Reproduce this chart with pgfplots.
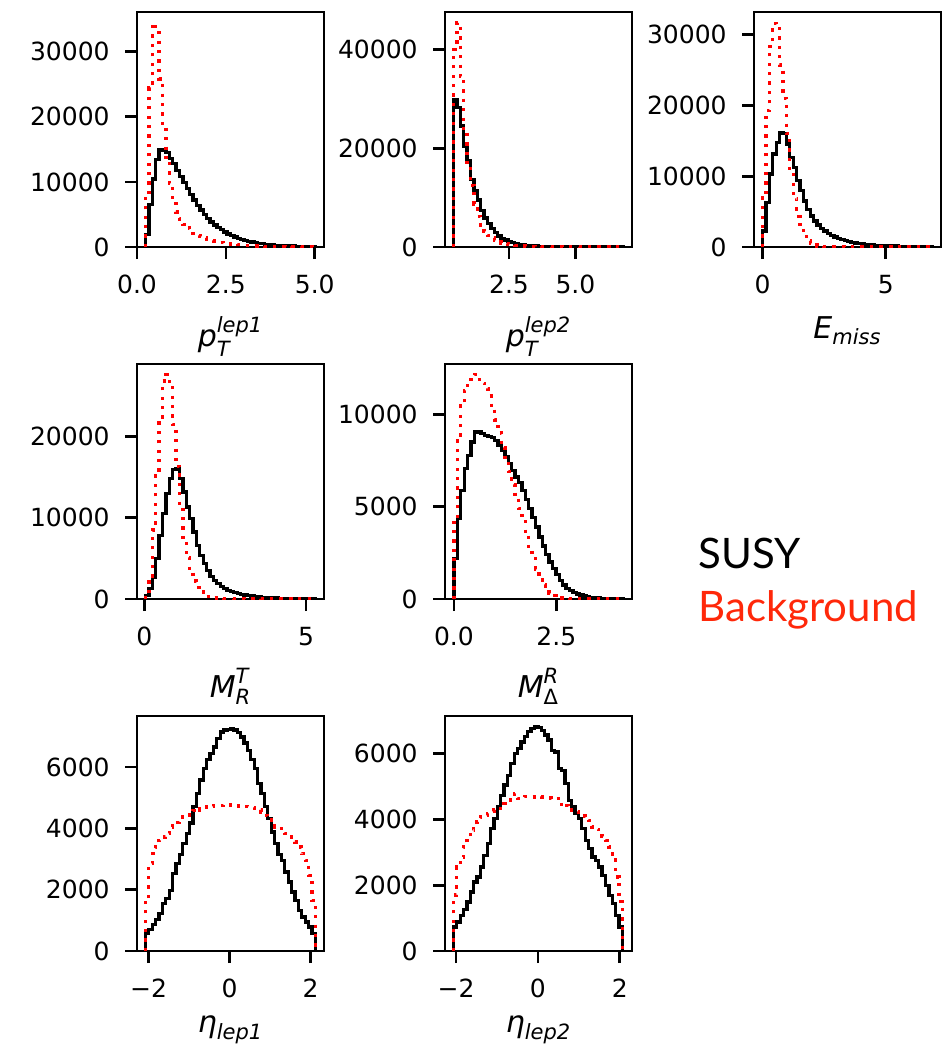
\documentclass[border=0pt]{standalone}
\usepackage{pgfplots}
\pgfplotsset{compat=1.18}
\usepackage{pgfplotstable}
\usepackage{amsmath}
\usepackage{fontspec}
\setmainfont{DejaVu Sans}
\newfontfamily\legfont{Lato}
\definecolor{legred}{RGB}{255,40,10}

% P1: p_T lep1  (bins from 0.24, width 0.0956)
\pgfplotstableread{
k s b
0 0 0
0 1960 8000
1 6500 24500
2 10450 34300
3 13400 33200
4 14900 25800
5 15000 19000
6 14500 13800
7 13600 9800
8 12800 7100
9 11700 5400
10 10800 4300
11 9900 3500
12 9000 2900
13 8100 2450
14 7200 2100
15 6400 1800
16 5700 1580
17 5000 1380
18 4400 1200
19 3850 1050
20 3400 920
21 3000 800
22 2650 700
23 2300 610
24 2000 530
25 1750 460
26 1520 400
27 1330 350
28 1160 300
29 1010 260
30 880 225
31 770 195
32 670 170
33 580 148
34 500 128
35 435 110
36 380 95
37 330 82
38 285 71
39 250 61
40 215 53
41 185 46
42 160 40
43 140 34
44 120 29
45 105 25
46 90 22
47 78 19
48 68 16
49 60 14
50 60 14
50 0 0
}\tabA

% P2: p_T lep2 (bins from 0.41, width 0.128)
\pgfplotstableread{
k s b
0 0 0
0 29900 40000
1 28200 45400
2 24500 34500
3 20400 24000
4 17400 16500
5 13700 12500
6 11500 8700
7 9500 6200
8 7400 4300
9 5900 3200
10 4700 2400
11 3700 1800
12 2900 1350
13 2250 1050
14 1750 820
15 1400 640
16 1100 500
17 870 390
18 690 300
19 550 230
20 440 175
21 350 130
22 280 100
23 225 75
24 180 55
25 145 40
26 117 30
27 95 22
28 77 16
29 62 12
30 50 9
31 41 7
32 33 5
33 27 4
34 22 3
35 18 2
36 15 2
37 12 1
38 10 1
39 8 1
40 7 1
41 6 1
42 5 1
43 4 0
44 3 0
45 3 0
46 2 0
47 2 0
48 2 0
49 1 0
50 1 0
50 0 0
}\tabB

% P3: E_miss (bins from 0, width 0.138)
\pgfplotstableread{
k s b
0 0 0
0 2270 7000
1 6280 19300
2 10300 28300
3 13130 31600
4 14800 30900
5 16100 25700
6 16000 21000
7 14550 16000
8 12660 10500
9 11240 6900
10 9350 4300
11 7940 2600
12 6520 1500
13 5340 850
14 4390 480
15 3680 270
16 3120 150
17 2650 85
18 2270 48
19 1940 27
20 1650 15
21 1420 9
22 1230 5
23 1040 3
24 900 2
25 760 1
26 660 1
27 570 1
28 490 0
29 420 0
30 370 0
31 330 0
32 290 0
33 255 0
34 225 0
35 200 0
36 175 0
37 155 0
38 137 0
39 121 0
40 107 0
41 95 0
42 84 0
43 74 0
44 66 0
45 58 0
46 51 0
47 45 0
48 40 0
49 35 0
50 35 0
50 0 0
}\tabC

% P4: M_R^T (bins from 0.037, width 0.105)
\pgfplotstableread{
k s b
0 0 0
0 450 500
1 1270 2800
2 2700 8500
3 4960 15500
4 7830 22000
5 10490 26800
6 12950 27600
7 14800 26200
8 15900 21500
9 16000 16300
10 14800 11500
11 13150 7600
12 11300 5100
13 9880 3400
14 8240 2200
15 6600 1400
16 5370 850
17 4340 500
18 3520 300
19 2790 180
20 2300 110
21 1890 65
22 1560 40
23 1310 25
24 1070 15
25 900 10
26 780 6
27 660 4
28 570 3
29 490 2
30 420 1
31 360 1
32 310 1
33 265 1
34 225 0
35 195 0
36 165 0
37 140 0
38 120 0
39 103 0
40 88 0
41 75 0
42 64 0
43 55 0
44 47 0
45 40 0
46 34 0
47 29 0
48 25 0
49 21 0
50 21 0
50 0 0
}\tabD

% P5: M_Delta^R (bins from 0, width 0.083)
\pgfplotstableread{
k s b
0 0 0
0 2190 4300
1 4360 8800
2 5900 10500
3 7070 11300
4 7790 11800
5 8520 12100
6 9060 12180
7 9060 11900
8 8970 11700
9 8880 11400
10 8820 11000
11 8750 10400
12 8610 9700
13 8340 9000
14 8070 8200
15 7700 7500
16 7340 6900
17 6980 6200
18 6620 5500
19 6310 4900
20 5900 4200
21 5410 3500
22 4900 2850
23 4410 2200
24 3910 1600
25 3360 1150
26 2880 780
27 2420 500
28 2010 310
29 1650 180
30 1320 100
31 1010 55
32 760 30
33 580 16
34 450 9
35 340 5
36 270 3
37 210 2
38 160 1
39 125 1
40 95 0
41 75 0
42 57 0
43 43 0
44 33 0
45 25 0
46 19 0
47 14 0
48 11 0
49 8 0
50 8 0
50 0 0
}\tabE

% P7: eta lep1 (bins from -2.08, width 0.0839)
\pgfplotstableread{
k s b
0 0 0
0 565 1650
1 700 2850
2 870 3170
3 1020 3390
4 1220 3610
5 1540 3720
6 1710 3830
7 1980 4040
8 2520 4100
9 2850 4200
10 3150 4260
11 3500 4370
12 3830 4420
13 4170 4530
14 4700 4590
15 5130 4530
16 5570 4640
17 5950 4680
18 6240 4700
19 6430 4720
20 6650 4750
21 6920 4760
22 7140 4750
23 7200 4770
24 7220 4780
25 7250 4760
26 7200 4750
27 7120 4730
28 6980 4700
29 6780 4710
30 6540 4700
31 6240 4680
32 5950 4640
33 5460 4600
34 5130 4530
35 4700 4420
36 4320 4370
37 3880 4200
38 3500 4040
39 3150 3990
40 2960 3930
41 2580 3820
42 2250 3720
43 1920 3640
44 1650 3550
45 1330 3390
46 1110 3170
47 950 2960
48 780 2470
49 565 1650
50 565 1650
50 0 0
}\tabF

% P8: eta lep2 (bins from -2.065, width 0.0826)
\pgfplotstableread{
k s b
0 0 0
0 730 1700
1 880 2550
2 1080 2860
3 1260 3160
4 1490 3470
5 1790 3670
6 2100 3820
7 2250 3920
8 2550 4070
9 2910 4120
10 3260 4180
11 3720 4230
12 4020 4280
13 4380 4330
14 4730 4380
15 5040 4480
16 5340 4580
17 5700 4680
18 6000 4780
19 6150 4630
20 6350 4680
21 6510 4700
22 6660 4690
23 6760 4680
24 6810 4700
25 6790 4690
26 6710 4680
27 6560 4660
28 6410 4650
29 6100 4620
30 6050 4640
31 5540 4630
32 5490 4380
33 5090 4430
34 4580 4350
35 4380 4280
36 4180 4230
37 4020 4120
38 3720 4100
39 3360 4070
40 3110 3970
41 2860 3770
42 2760 3700
43 2550 3570
44 2300 3470
45 2000 3360
46 1690 3160
47 1440 2860
48 1080 2250
49 730 1500
50 730 1500
50 0 0
}\tabG

\pgfplotsset{
  histax/.style={
    scale only axis, width=93.5pt, height=117.5pt, anchor=north west,
    axis line style={line width=1.35pt},
    tick align=outside, major tick length=6pt,
    tick style={line width=1.35pt, black},
    xtick pos=bottom, ytick pos=left,
    scaled ticks=false,
    ymin=0,
    font=\fontsize{12.5}{15}\selectfont,
    xticklabel style={anchor=base, inner sep=0pt, yshift=-17pt},
    yticklabel style={anchor=east, inner sep=0pt, xshift=-7.5pt},
    xlabel style={at={(axis description cs:0.5,0)}, anchor=north, inner sep=0pt, yshift=-34.5pt, font=\fontsize{15}{18}\selectfont},
  },
  susy/.style={black, line width=1.65pt, const plot, no markers},
  bkg/.style={red, line width=1.65pt, const plot, no markers, dash pattern=on 1.6pt off 3.1pt},
}

\begin{document}
\begin{tikzpicture}
\useasboundingbox (0,0) rectangle (474.5pt,-522.5pt);

\begin{axis}[histax, at={(68.5pt,-6pt)}, xmin=0, xmax=5.26, ymax=36100,
  xtick={0,2.5,5}, xticklabels={0.0,2.5,5.0},
  ytick={0,10000,20000,30000}, yticklabels={0,10000,20000,30000},
  xlabel={$\text{\itshape p}^{\text{\itshape lep1}}_{\text{\itshape T}}$}]
\addplot[susy] table[x expr=0.24+0.0956*\thisrow{k}, y=s]{\tabA};
\addplot[bkg] table[x expr=0.24+0.0956*\thisrow{k}, y=b]{\tabA};
\end{axis}

\begin{axis}[histax, at={(222.5pt,-6pt)}, xmin=0.09, xmax=7.13, ymax=47600,
  xtick={2.5,5}, xticklabels={2.5,5.0},
  ytick={0,20000,40000}, yticklabels={0,20000,40000},
  xlabel={$\text{\itshape p}^{\text{\itshape lep2}}_{\text{\itshape T}}$}]
\addplot[susy] table[x expr=0.41+0.128*\thisrow{k}, y=s]{\tabB};
\addplot[bkg] table[x expr=0.41+0.128*\thisrow{k}, y=b]{\tabB};
\end{axis}

\begin{axis}[histax, at={(377pt,-6pt)}, xmin=-0.35, xmax=7.24, ymax=33200,
  xtick={0,5}, xticklabels={0,5},
  ytick={0,10000,20000,30000}, yticklabels={0,10000,20000,30000},
  xlabel={$\text{\itshape E}_{\text{\itshape miss}}$}]
\addplot[susy] table[x expr=0+0.138*\thisrow{k}, y=s]{\tabC};
\addplot[bkg] table[x expr=0+0.138*\thisrow{k}, y=b]{\tabC};
\end{axis}

\begin{axis}[histax, at={(68.5pt,-182pt)}, xmin=-0.226, xmax=5.557, ymax=28900,
  xtick={0,5}, xticklabels={0,5},
  ytick={0,10000,20000}, yticklabels={0,10000,20000},
  xlabel={$\text{\itshape M}^{\text{\itshape T}}_{\text{\itshape R}}$}]
\addplot[susy] table[x expr=0.037+0.105*\thisrow{k}, y=s]{\tabD};
\addplot[bkg] table[x expr=0.037+0.105*\thisrow{k}, y=b]{\tabD};
\end{axis}

\begin{axis}[histax, at={(222.5pt,-182pt)}, xmin=-0.219, xmax=4.35, ymax=12740,
  xtick={0,2.5}, xticklabels={0.0,2.5},
  ytick={0,5000,10000}, yticklabels={0,5000,10000},
  xlabel={$\text{\itshape M}^{\text{\itshape R}}_{\text{Δ}}$}]
\addplot[susy] table[x expr=0+0.083*\thisrow{k}, y=s]{\tabE};
\addplot[bkg] table[x expr=0+0.083*\thisrow{k}, y=b]{\tabE};
\end{axis}

\begin{axis}[histax, at={(68.5pt,-358pt)}, xmin=-2.286, xmax=2.328, ymax=7660,
  xtick={-2,0,2}, xticklabels={−2,0,2},
  ytick={0,2000,4000,6000}, yticklabels={0,2000,4000,6000},
  xlabel style={yshift=2.5pt},
  xlabel={$\text{\itshape η}_{\text{\itshape lep1}}$}]
\addplot[susy] table[x expr=-2.08+0.0839*\thisrow{k}, y=s]{\tabF};
\addplot[bkg] table[x expr=-2.08+0.0839*\thisrow{k}, y=b]{\tabF};
\end{axis}

\begin{axis}[histax, at={(222.5pt,-358pt)}, xmin=-2.27, xmax=2.3, ymax=7140,
  xtick={-2,0,2}, xticklabels={−2,0,2},
  ytick={0,2000,4000,6000}, yticklabels={0,2000,4000,6000},
  xlabel style={yshift=2.5pt},
  xlabel={$\text{\itshape η}_{\text{\itshape lep2}}$}]
\addplot[susy] table[x expr=-2.065+0.0826*\thisrow{k}, y=s]{\tabG};
\addplot[bkg] table[x expr=-2.065+0.0826*\thisrow{k}, y=b]{\tabG};
\end{axis}

\node[anchor=base west, inner sep=0pt, font=\legfont\fontsize{21}{25}\selectfont] at (349pt,-284pt) {SUSY};
\node[anchor=base west, inner sep=0pt, text=legred, font=\legfont\fontsize{21}{25}\selectfont] at (349pt,-310.85pt) {Background};
\end{tikzpicture}
\end{document}
